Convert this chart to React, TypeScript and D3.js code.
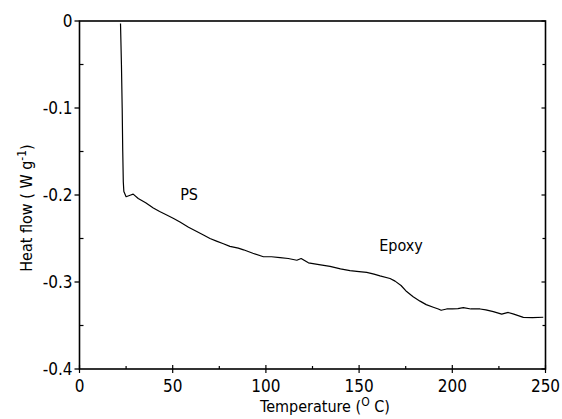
import React from "react";
import * as d3 from "d3";

const temps: number[] = [
  22.0, 22.5, 22.9, 23.2, 23.5, 23.8, 25.0, 27.5, 28.8, 31.5, 35.5, 39.6, 43.0, 46.8, 50.5, 53.9, 58.5,
  62.9, 66.5, 70.0, 73.5, 77.2, 80.7, 85.2, 88.0, 93.0, 98.7, 103.0, 107.6, 112.0, 116.6, 118.9,
  122.8, 128.5, 134.4, 140.0, 145.1, 150.0, 154.1, 158.0, 161.2, 166.6, 169.3, 172.5, 175.5, 179.0,
  182.7, 186.0, 189.8, 192.5, 194.0, 197.0, 200.0, 203.0, 205.9, 210.0, 214.9, 218.0, 222.0,
  226.5, 230.0, 233.0, 238.1, 243.0, 248.8,
];
const heatFlow: number[] = [
  -0.003, -0.05, -0.1, -0.15, -0.185, -0.196, -0.202, -0.2, -0.199, -0.204, -0.209, -0.215, -0.219,
  -0.223, -0.227, -0.231, -0.237, -0.242, -0.246, -0.25, -0.253, -0.256, -0.259, -0.261, -0.263,
  -0.267, -0.271, -0.271, -0.272, -0.273, -0.275, -0.273, -0.278, -0.28, -0.282, -0.285, -0.287,
  -0.288, -0.289, -0.291, -0.293, -0.296, -0.299, -0.304, -0.311, -0.317, -0.322, -0.326, -0.329,
  -0.331, -0.3325, -0.331, -0.331, -0.3305, -0.3295, -0.331, -0.331, -0.332, -0.334, -0.337,
  -0.335, -0.337, -0.3406, -0.341, -0.3405,
];
const xTicks: number[] = [0, 50, 100, 150, 200, 250];
const xMinorTicks: number[] = [25, 75, 125, 175, 225];
const yTicks: number[] = [0, -0.1, -0.2, -0.3, -0.4];
const yTickLabels: string[] = ["0", "-0.1", "-0.2", "-0.3", "-0.4"];
const yMinorTicks: number[] = [-0.05, -0.15, -0.25, -0.35];
const annotations: { text: string; t: number; v: number }[] = [
  { text: "PS", t: 58.8, v: -0.206 },
  { text: "Epoxy", t: 172.5, v: -0.264 },
];

const W = 562;
const H = 419;
const left = 79.5;
const right = 545.5;
const top = 21;
const bottom = 369;
const FONT = "'Liberation Sans Narrow', 'DejaVu Sans Condensed', 'Liberation Sans', sans-serif";

export default function App() {
  const x = d3.scaleLinear().domain([0, 250]).range([left, right]);
  const y = d3.scaleLinear().domain([-0.4, 0]).range([bottom, top]);
  const pts: [number, number][] = temps.map((t, i) => [t, heatFlow[i]]);
  const line = d3
    .line<[number, number]>()
    .x((d) => x(d[0]))
    .y((d) => y(d[1]))
    .curve(d3.curveLinear);

  return (
    <svg
      width={W}
      height={H}
      style={{ position: "absolute", top: 0, left: 0, background: "#fff" }}
      fontFamily={FONT}
    >
      <rect x={0} y={0} width={W} height={H} fill="#fff" />
      <rect
        x={left}
        y={top}
        width={right - left}
        height={bottom - top}
        fill="none"
        stroke="#000"
        strokeWidth={1.6}
      />
      {yTicks.map((v, i) => (
        <g key={"yt" + i}>
          <line x1={left - 5} x2={left} y1={y(v)} y2={y(v)} stroke="#000" strokeWidth={1.3} />
          <line x1={right} x2={right - 4} y1={y(v)} y2={y(v)} stroke="#000" strokeWidth={1.2} />
          <text x={left - 7} y={y(v)} dy="0.36em" textAnchor="end" fontSize={17} fill="#000">
            {yTickLabels[i]}
          </text>
        </g>
      ))}
      {yMinorTicks.map((v, i) => (
        <g key={"ym" + i}>
          <line x1={left} x2={left + 4} y1={y(v)} y2={y(v)} stroke="#000" strokeWidth={1.2} />
          <line x1={right} x2={right - 3} y1={y(v)} y2={y(v)} stroke="#000" strokeWidth={1.2} />
        </g>
      ))}
      {xTicks.map((t, i) => (
        <g key={"xt" + i}>
          <line x1={x(t)} x2={x(t)} y1={bottom + 4} y2={bottom - 4} stroke="#000" strokeWidth={1.2} />
          <text x={x(t)} y={bottom + 23} textAnchor="middle" fontSize={17} fill="#000">
            {t}
          </text>
        </g>
      ))}
      {xMinorTicks.map((t, i) => (
        <line key={"xm" + i} x1={x(t)} x2={x(t)} y1={bottom} y2={bottom - 3} stroke="#000" strokeWidth={1.2} />
      ))}
      <path d={line(pts) || ""} fill="none" stroke="#000" strokeWidth={1.2} strokeLinejoin="round" />
      {annotations.map((a, i) => (
        <text key={"an" + i} x={x(a.t)} y={y(a.v)} textAnchor="middle" fontSize={16} fill="#000">
          {a.text}
        </text>
      ))}
      <text x={325} y={412} textAnchor="middle" fontSize={16} fill="#000">
        Temperature (
        <tspan fontSize={12} dy={-6}>
          O
        </tspan>
        <tspan dy={6}> C)</tspan>
      </text>
      <text
        transform={`translate(32, 208) rotate(-90)`}
        textAnchor="middle"
        fontSize={16}
        fill="#000"
      >
        Heat flow ( W g
        <tspan fontSize={12} dy={-6}>
          -1
        </tspan>
        <tspan dy={6}>)</tspan>
      </text>
    </svg>
  );
}
